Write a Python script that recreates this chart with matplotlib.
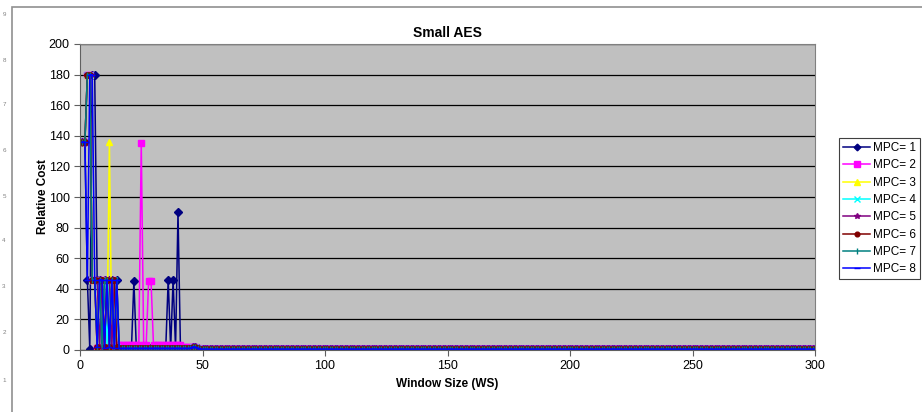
import matplotlib
matplotlib.use('Agg')
import matplotlib.pyplot as plt
from matplotlib.patches import Rectangle

plt.rcParams['font.family'] = ['Liberation Sans', 'DejaVu Sans']

# window sizes 1..300
ws = list(range(1, 301))
tail = [0.5] * 250   # everything past WS=50 sits just above zero

mpc1 = [136, 136, 46, 0.5, 180, 180, 46, 46, 1, 46,
        1, 46, 46, 1, 46, 1, 1, 1, 1, 1,
        1, 45, 1, 1, 1, 1, 1, 1, 1, 1,
        1, 1, 1, 1, 1, 46, 1, 46, 1, 90,
        1, 1, 1, 1, 1, 2, 2, 1, 0.5, 0.5] + tail
mpc2 = [136, 136, 180, 180, 46, 46, 1, 2, 46, 2,
        46, 2, 46, 2, 3, 3, 3, 3, 3, 3,
        3, 3, 3, 3, 135, 3, 3, 45, 45, 3,
        3, 3, 3, 3, 3, 3, 3, 3, 3, 3,
        3, 2, 2, 2, 2, 2, 2, 1, 0.5, 0.5] + tail
mpc3 = [136, 136, 180, 180, 46, 46, 1, 2, 46, 1,
        2, 136, 2, 1.5, 1.5, 1.5, 1.5, 1.5, 1.5, 1.5,
        1.5, 1.5, 1.5, 1.5, 1.5, 1.5, 1.5, 1.5, 1.5, 1.5,
        1.5, 1.5, 1.5, 1.5, 1.5, 1.5, 1.5, 1.5, 1.5, 1.5,
        1.5, 1.5, 1.5, 1.5, 1.5, 2, 2, 1, 0.5, 0.5] + tail
mpc4 = [136, 136, 180, 180, 46, 46, 46, 2, 46, 46,
        2, 46, 2, 46, 2, 1, 1, 1, 1, 1,
        1, 1, 1, 1, 1, 1, 1, 1, 1, 1,
        1, 1, 1, 1, 1, 1, 1, 1, 1, 1,
        1, 1, 1, 1, 1, 2, 2, 1, 0.5, 0.5] + tail
mpc5 = [136, 136, 180, 180, 46, 46, 46, 2, 46, 2,
        46, 46, 2, 46, 2, 1, 1, 1, 1, 1,
        1, 1, 1, 1, 1, 1, 1, 1, 1, 1,
        1, 1, 1, 1, 1, 1, 1, 1, 1, 1,
        1, 1, 1, 1, 1, 2, 2, 1, 0.5, 0.5] + tail
mpc6 = [136, 136, 180, 180, 46, 46, 2, 46, 46, 2,
        46, 2, 46, 46, 2, 1, 1, 1, 1, 1,
        1, 1, 1, 1, 1, 1, 1, 1, 1, 1,
        1, 1, 1, 1, 1, 1, 1, 1, 1, 1,
        1, 1, 1, 1, 1, 2, 2, 1, 0.5, 0.5] + tail
mpc7 = [136, 136, 180, 180, 46, 46, 2, 46, 2, 46,
        46, 2, 46, 2, 46, 1, 1, 1, 1, 1,
        1, 1, 1, 1, 1, 1, 1, 1, 1, 1,
        1, 1, 1, 1, 1, 1, 1, 1, 1, 1,
        1, 1, 1, 1, 1, 2, 2, 1, 0.5, 0.5] + tail
mpc8 = [136, 136, 46, 180, 180, 46, 2, 46, 46, 1,
        46, 2, 46, 1, 46, 1, 1, 1, 1, 1,
        1, 1, 1, 1, 1, 1, 1, 1, 1, 1,
        1, 1, 1, 1, 1, 1, 1, 1, 1, 1,
        1, 1, 1, 1, 1, 2, 2, 1, 0.5, 0.5] + tail

series = [mpc1, mpc2, mpc3, mpc4, mpc5, mpc6, mpc7, mpc8]
labels = ['MPC= %d' % i for i in range(1, 9)]
colors = ['#000080', '#FF00FF', '#FFFF00', '#00FFFF',
          '#800080', '#800000', '#008080', '#0000FF']
markers = ['D', 's', '^', 'x', '*', 'o', '|', '_']
msizes = [4, 5, 5, 5, 5, 4, 5, 5]

fig = plt.figure(figsize=(9.22, 4.12), dpi=100)
fig.patches.append(Rectangle((12 / 922, -0.1), 2, (412 - 7) / 412 + 0.1,
                             transform=fig.transFigure, fill=False,
                             edgecolor='#909090', lw=1.2))
# faint page numbers on the left margin
for d, yp in zip(range(9, 0, -1), [15, 60, 105, 150, 197, 241, 286, 333, 380]):
    fig.text(4 / 922, 1 - yp / 412, str(d), fontsize=4.5, color='#808080',
             ha='center', va='center')

ax = fig.add_axes([80 / 922, 62 / 412, 735 / 922, 306 / 412])
ax.set_facecolor('#C0C0C0')

for ys, lab, c, m, ms in zip(series, labels, colors, markers, msizes):
    ax.plot(ws, ys, color=c, marker=m, markersize=ms, lw=1.1,
            markeredgewidth=1, label=lab)

ax.set_xlim(0, 300)
ax.set_ylim(0, 200)
ax.set_xticks(range(0, 301, 50))
ax.set_yticks(range(0, 201, 20))
ax.yaxis.grid(True, color='black', lw=0.9)
ax.set_axisbelow(True)
for s in ['top', 'right']:
    ax.spines[s].set_color('#808080')
for s in ['left', 'bottom']:
    ax.spines[s].set_color('#606060')
ax.tick_params(direction='out', length=4, labelsize=9, color='#606060')

ax.set_title('Small AES', fontsize=10, fontweight='bold', pad=5)
ax.set_xlabel('Window Size (WS)', fontsize=8.5, fontweight='bold', labelpad=4)
ax.set_ylabel('Relative Cost', fontsize=8.5, fontweight='bold', labelpad=0)

leg = fig.legend(loc='upper left', bbox_to_anchor=(839 / 922, 1 - 138 / 412),
                 fontsize=8.5, frameon=True, fancybox=False, framealpha=1,
                 edgecolor='#404040', handlelength=2.3, borderpad=0.35,
                 borderaxespad=0, labelspacing=0.45, handletextpad=0.2,
                 markerscale=0.85)
leg.get_frame().set_linewidth(0.8)

fig.savefig('out.png', dpi=100)
